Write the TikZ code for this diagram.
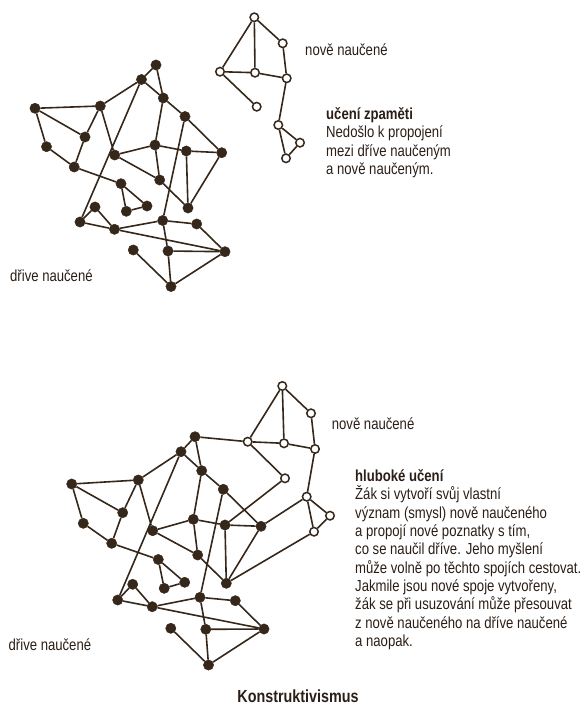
\documentclass[tikz,border=0pt]{standalone}
\usepackage{fontspec}
\setmainfont{Liberation Sans}[FakeStretch=0.82]
\definecolor{ink}{HTML}{36271B}
\definecolor{txtink}{HTML}{2A1E16}

\begin{document}
\begin{tikzpicture}[x=1pt, y=-1pt,
    oldnode/.style={circle, fill=ink, draw=ink, minimum size=10.3pt, inner sep=0pt},
    newnode/.style={circle, fill=white, draw=ink, line width=1.5pt, minimum size=8.5pt, inner sep=0pt},
    link/.style={draw=ink, line width=1.6pt},
    txt/.style={text=txtink, inner sep=0pt, font=\fontsize{16}{18.3}\selectfont, align=left}]
    \useasboundingbox (0,0) rectangle (581,706);

    % Upper picture: old knowledge
    \node[oldnode] (old-1-1) at (156,65) {};
    \node[oldnode] (old-1-2) at (141.5,79.5) {};
    \node[oldnode] (old-1-3) at (163.3,98) {};
    \node[oldnode] (old-1-4) at (35,108.3) {};
    \node[oldnode] (old-1-5) at (100.3,106) {};
    \node[oldnode] (old-1-6) at (185,116.5) {};
    \node[oldnode] (old-1-7) at (85,137) {};
    \node[oldnode] (old-1-8) at (46.5,146.7) {};
    \node[oldnode] (old-1-9) at (155,145) {};
    \node[oldnode] (old-1-10) at (114.7,155) {};
    \node[oldnode] (old-1-11) at (186.3,151) {};
    \node[oldnode] (old-1-12) at (221.7,152.7) {};
    \node[oldnode] (old-1-13) at (74.2,167) {};
    \node[oldnode] (old-1-14) at (159.7,180) {};
    \node[oldnode] (old-1-15) at (121,183.7) {};
    \node[oldnode] (old-1-16) at (95,207) {};
    \node[oldnode] (old-1-17) at (147,206) {};
    \node[oldnode] (old-1-18) at (126.3,211.3) {};
    \node[oldnode] (old-1-19) at (188,208) {};
    \node[oldnode] (old-1-20) at (80,222) {};
    \node[oldnode] (old-1-21) at (162.7,220.5) {};
    \node[oldnode] (old-1-22) at (196.7,224) {};
    \node[oldnode] (old-1-23) at (114.5,229.3) {};
    \node[oldnode] (old-1-24) at (133.3,250) {};
    \node[oldnode] (old-1-25) at (168,251) {};
    \node[oldnode] (old-1-26) at (225,251.7) {};
    \node[oldnode] (old-1-27) at (171,286.5) {};

    % Upper picture: new knowledge
    \node[newnode] (new-1-1) at (254.3,17.3) {};
    \node[newnode] (new-1-2) at (282.7,43.3) {};
    \node[newnode] (new-1-3) at (220,71.7) {};
    \node[newnode] (new-1-4) at (255,72.7) {};
    \node[newnode] (new-1-5) at (286.7,78.3) {};
    \node[newnode] (new-1-6) at (256.7,106.7) {};
    \node[newnode] (new-1-7) at (278.3,125) {};
    \node[newnode] (new-1-8) at (300,142.7) {};
    \node[newnode] (new-1-9) at (286,158.3) {};

    \draw[link] (old-1-1) -- (old-1-2) (old-1-1) -- (old-1-3) (old-1-2) -- (old-1-3)
        (old-1-2) -- (old-1-5) (old-1-2) -- (old-1-20) (old-1-3) -- (old-1-6)
        (old-1-3) -- (old-1-9) (old-1-4) -- (old-1-5) (old-1-4) -- (old-1-7)
        (old-1-4) -- (old-1-8) (old-1-5) -- (old-1-7) (old-1-5) -- (old-1-10)
        (old-1-6) -- (old-1-12) (old-1-6) -- (old-1-21) (old-1-7) -- (old-1-13)
        (old-1-8) -- (old-1-13) (old-1-9) -- (old-1-10) (old-1-9) -- (old-1-11)
        (old-1-9) -- (old-1-14) (old-1-10) -- (old-1-14) (old-1-11) -- (old-1-12)
        (old-1-11) -- (old-1-19) (old-1-12) -- (old-1-19) (old-1-13) -- (old-1-15)
        (old-1-14) -- (old-1-19) (old-1-15) -- (old-1-17) (old-1-15) -- (old-1-18)
        (old-1-17) -- (old-1-18) (old-1-16) -- (old-1-20) (old-1-16) -- (old-1-23)
        (old-1-20) -- (old-1-23) (old-1-21) -- (old-1-23) (old-1-21) -- (old-1-22)
        (old-1-21) -- (old-1-25) (old-1-22) -- (old-1-26) (old-1-23) -- (old-1-26)
        (old-1-25) -- (old-1-26) (old-1-25) -- (old-1-27) (old-1-24) -- (old-1-27)
        (old-1-26) -- (old-1-27);
    \draw[link] (new-1-1) -- (new-1-2) (new-1-1) -- (new-1-3) (new-1-1) -- (new-1-4)
        (new-1-2) -- (new-1-5) (new-1-3) -- (new-1-4) (new-1-4) -- (new-1-5)
        (new-1-3) -- (new-1-6) (new-1-5) -- (new-1-7) (new-1-7) -- (new-1-8)
        (new-1-7) -- (new-1-9) (new-1-8) -- (new-1-9);

    \node[txt, anchor=base west] (new-1-label) at (305,55.5) {nově naučené};
    \node[txt, anchor=base west] (old-1-label) at (10,281.7) {dřive naučené};
    \node[txt, anchor=north west] (rote) at (326,107.5)
        {\textbf{učení zpaměti}\\Nedošlo k propojení\\mezi dříve naučeným\\a nově naučeným.};

    % Lower picture: old knowledge
    \node[oldnode] (old-2-1) at (195,436.7) {};
    \node[oldnode] (old-2-2) at (181,451.7) {};
    \node[oldnode] (old-2-3) at (201.7,470.7) {};
    \node[oldnode] (old-2-4) at (71.7,484) {};
    \node[oldnode] (old-2-5) at (138.3,480) {};
    \node[oldnode] (old-2-6) at (223.3,489.3) {};
    \node[oldnode] (old-2-7) at (122.7,512.7) {};
    \node[oldnode] (old-2-8) at (83.3,523.3) {};
    \node[oldnode] (old-2-9) at (193.3,519.3) {};
    \node[oldnode] (old-2-10) at (152.7,530.7) {};
    \node[oldnode] (old-2-11) at (225,525) {};
    \node[oldnode] (old-2-12) at (261,526.3) {};
    \node[oldnode] (old-2-13) at (111.7,543.3) {};
    \node[oldnode] (old-2-14) at (197.7,555) {};
    \node[oldnode] (old-2-15) at (158.3,559.5) {};
    \node[oldnode] (old-2-16) at (132.7,584.3) {};
    \node[oldnode] (old-2-17) at (184.7,582.3) {};
    \node[oldnode] (old-2-18) at (164.2,588.3) {};
    \node[oldnode] (old-2-19) at (226.3,583.3) {};
    \node[oldnode] (old-2-20) at (117.7,600) {};
    \node[oldnode] (old-2-21) at (200,597.3) {};
    \node[oldnode] (old-2-22) at (235.3,600.7) {};
    \node[oldnode] (old-2-23) at (152.2,606.7) {};
    \node[oldnode] (old-2-24) at (170.8,628.3) {};
    \node[oldnode] (old-2-25) at (205.8,629.3) {};
    \node[oldnode] (old-2-26) at (264,629) {};
    \node[oldnode] (old-2-27) at (208.5,665) {};

    % Lower picture: new knowledge
    \node[newnode] (new-2-1) at (282.3,386) {};
    \node[newnode] (new-2-2) at (311,413.3) {};
    \node[newnode] (new-2-3) at (247.7,441.7) {};
    \node[newnode] (new-2-4) at (284,443.3) {};
    \node[newnode] (new-2-5) at (315,449) {};
    \node[newnode] (new-2-6) at (285,478.3) {};
    \node[newnode] (new-2-7) at (306.7,496.7) {};
    \node[newnode] (new-2-8) at (330,515.7) {};
    \node[newnode] (new-2-9) at (314,531.7) {};

    \draw[link] (old-2-1) -- (old-2-2) (old-2-1) -- (old-2-3) (old-2-2) -- (old-2-3)
        (old-2-2) -- (old-2-5) (old-2-2) -- (old-2-20) (old-2-3) -- (old-2-6)
        (old-2-3) -- (old-2-9) (old-2-4) -- (old-2-5) (old-2-4) -- (old-2-7)
        (old-2-4) -- (old-2-8) (old-2-5) -- (old-2-7) (old-2-5) -- (old-2-10)
        (old-2-6) -- (old-2-12) (old-2-6) -- (old-2-21) (old-2-7) -- (old-2-13)
        (old-2-8) -- (old-2-13) (old-2-9) -- (old-2-10) (old-2-9) -- (old-2-11)
        (old-2-9) -- (old-2-14) (old-2-10) -- (old-2-14) (old-2-11) -- (old-2-12)
        (old-2-11) -- (old-2-19) (old-2-12) -- (old-2-19) (old-2-13) -- (old-2-15)
        (old-2-14) -- (old-2-19) (old-2-15) -- (old-2-17) (old-2-15) -- (old-2-18)
        (old-2-17) -- (old-2-18) (old-2-16) -- (old-2-20) (old-2-16) -- (old-2-23)
        (old-2-20) -- (old-2-23) (old-2-21) -- (old-2-23) (old-2-21) -- (old-2-22)
        (old-2-21) -- (old-2-25) (old-2-22) -- (old-2-26) (old-2-23) -- (old-2-26)
        (old-2-25) -- (old-2-26) (old-2-25) -- (old-2-27) (old-2-24) -- (old-2-27)
        (old-2-26) -- (old-2-27);
    \draw[link] (new-2-1) -- (new-2-2) (new-2-1) -- (new-2-3) (new-2-1) -- (new-2-4)
        (new-2-2) -- (new-2-5) (new-2-3) -- (new-2-4) (new-2-4) -- (new-2-5)
        (new-2-3) -- (new-2-6) (new-2-5) -- (new-2-7) (new-2-7) -- (new-2-8)
        (new-2-7) -- (new-2-9) (new-2-8) -- (new-2-9);
    % new links between old and new
    \draw[link] (old-2-1) -- (new-2-3) (old-2-11) -- (new-2-6)
        (old-2-12) -- (new-2-7) (old-2-19) -- (new-2-9);

    \node[txt, anchor=base west] (new-2-label) at (331.7,429) {nově naučené};
    \node[txt, anchor=base west] (old-2-label) at (8.5,650) {dřive naučené};
    \node[txt, anchor=north west] (deep) at (355,469.5)
        {\textbf{hluboké učení}\\Žák si vytvoří svůj vlastní\\význam (smysl) nově naučeného\\a propojí nové poznatky s tím,\\co se naučil dříve. Jeho myšlení\\může volně po těchto spojích cestovat.\\Jakmile jsou nové spoje vytvořeny,\\žák se při usuzování může přesouvat\\z nově naučeného na dříve naučené\\a naopak.};

    \node[txt, anchor=base, font=\fontsize{17.5}{20}\selectfont\bfseries] (title) at (298,702) {Konstruktivismus};

\end{tikzpicture}
\end{document}
